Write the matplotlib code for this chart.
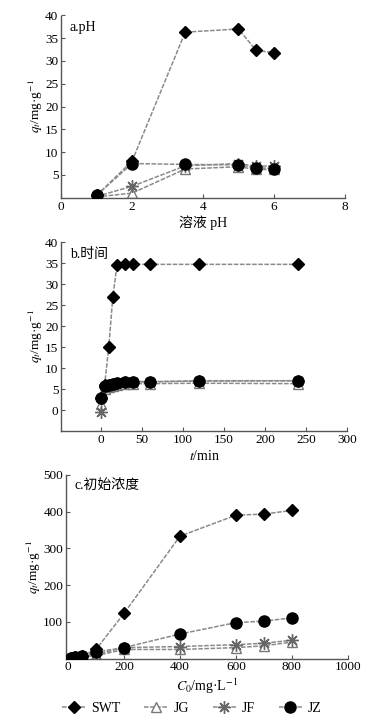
import matplotlib
matplotlib.use("Agg")
import matplotlib.pyplot as plt
from matplotlib.lines import Line2D

plt.rcParams['font.family'] = ['Liberation Serif', 'Noto Sans CJK SC']
plt.rcParams['mathtext.fontset'] = 'stix'
plt.rcParams['font.size'] = 9

# ---- data ----
series = ['SWT', 'JG', 'JF', 'JZ']

ph_x = [1, 2, 3.5, 5, 5.5, 6]
ph_swt = [0.5, 8.0, 36.3, 37.0, 32.3, 31.8]
ph_jg = [0.2, 1.0, 6.3, 6.8, 6.2, 6.2]
ph_jf = [0.3, 2.5, 7.0, 7.5, 6.9, 7.0]
ph_jz = [0.5, 7.5, 7.3, 7.2, 6.6, 6.4]

t_x = [0, 5, 10, 15, 20, 30, 40, 60, 120, 240]
t_swt = [3.0, 6.0, 15.0, 27.0, 34.5, 34.7, 34.7, 34.7, 34.7, 34.7]
t_jg = [1.5, 5.0, 5.5, 5.8, 6.0, 6.2, 6.3, 6.3, 6.4, 6.3]
t_jf = [-0.5, 5.5, 6.0, 6.2, 6.5, 6.7, 6.8, 6.8, 6.9, 7.0]
t_jz = [3.0, 5.8, 6.0, 6.3, 6.5, 6.7, 6.7, 6.7, 7.0, 7.0]

c_x = [10, 25, 50, 100, 200, 400, 600, 700, 800]
c_swt = [2, 4, 8, 25, 123, 333, 390, 393, 403]
c_jg = [1, 3, 5, 8, 25, 25, 30, 35, 45]
c_jf = [2, 4, 8, 12, 30, 33, 38, 42, 50]
c_jz = [2, 4, 8, 18, 30, 67, 98, 102, 111]

panel_titles = ['a.pH', 'b.时间', 'c.初始浓度']
x_labels = ['溶液 pH', '$t$/min', '$C_0$/mg·L$^{-1}$']
y_label = '$q_t$/mg·g$^{-1}$'

# ---- styles ----
line_kw = dict(color='#8a8a8a', linewidth=1.1, linestyle=(0, (3, 1)))
styles = {
    'SWT': dict(marker='D', markersize=6, markerfacecolor='black', markeredgecolor='black'),
    'JG': dict(marker='^', markersize=7, markerfacecolor='white', markeredgecolor='#777777', markeredgewidth=1.0),
    'JF': dict(marker=(8, 2, 0), markersize=9, markeredgecolor='#666666', markeredgewidth=1.0),
    'JZ': dict(marker='o', markersize=8, markerfacecolor='black', markeredgecolor='black'),
}

fig = plt.figure(figsize=(3.84, 7.27), dpi=100)
axA = fig.add_axes([0.159, 0.728, 0.739, 0.251])
axB = fig.add_axes([0.159, 0.407, 0.745, 0.260])
axC = fig.add_axes([0.172, 0.094, 0.734, 0.253])

datasets = [
    (axA, ph_x, [ph_swt, ph_jg, ph_jf, ph_jz]),
    (axB, t_x, [t_swt, t_jg, t_jf, t_jz]),
    (axC, c_x, [c_swt, c_jg, c_jf, c_jz]),
]

for ax, xs, ys in datasets:
    for name, y in zip(series, ys):
        ax.plot(xs, y, **line_kw, **styles[name], zorder=3 if name in ('SWT', 'JZ') else 2)

for ax in (axA, axB, axC):
    for s in ('top', 'right'):
        ax.spines[s].set_visible(False)
    for s in ('left', 'bottom'):
        ax.spines[s].set_color('#555555')
        ax.spines[s].set_linewidth(1.0)
        ax.spines[s].set_linestyle((0, (2, 1)))
    ax.tick_params(direction='in', length=3, width=0.8, color='#555555', labelsize=9.5, pad=2)
    ax.set_ylabel(y_label, fontsize=9.5, labelpad=0)

axA.set_xlim(0, 8)
axA.set_ylim(0, 40)
axA.set_xticks([0, 2, 4, 6, 8])
axA.set_yticks([5, 10, 15, 20, 25, 30, 35, 40])

axB.set_xlim(-48, 300)
axB.set_ylim(-5, 40)
axB.set_xticks([0, 50, 100, 150, 200, 250, 300])
axB.set_yticks([0, 5, 10, 15, 20, 25, 30, 35, 40])

axC.set_xlim(-7, 1000)
axC.set_ylim(0, 500)
axC.set_xticks([0, 200, 400, 600, 800, 1000])
axC.set_yticks([100, 200, 300, 400, 500])

for ax, t, xl in zip((axA, axB, axC), panel_titles, x_labels):
    ax.text(0.03, 0.97, t, transform=ax.transAxes, ha='left', va='top', fontsize=10)
    ax.set_xlabel(xl, fontsize=10, labelpad=2)

handles = [Line2D([], [], **line_kw, **styles[n]) for n in series]
fig.legend(handles, series, loc='center', bbox_to_anchor=(0.5, 0.026), ncol=4,
           frameon=False, fontsize=10, handlelength=1.7, columnspacing=1.7, handletextpad=0.4)

fig.savefig('out.png', dpi=100)
